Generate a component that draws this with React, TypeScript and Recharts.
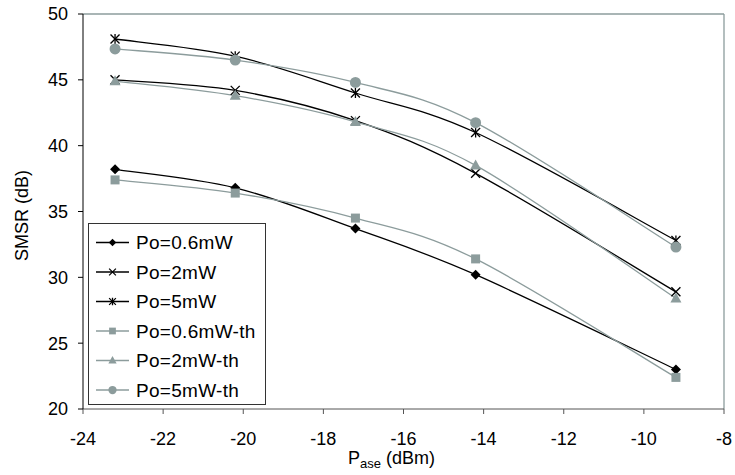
import { LineChart, Line, XAxis, YAxis, ReferenceLine, Legend, Label } from "recharts";

const pase = [-23.2, -20.2, -17.2, -14.2, -9.2];
const po06 = [38.2, 36.8, 33.7, 30.2, 23.0];
const po2 = [45.0, 44.2, 41.9, 37.9, 28.9];
const po5 = [48.1, 46.8, 44.0, 41.0, 32.8];
const po06th = [37.4, 36.4, 34.5, 31.4, 22.4];
const po2th = [44.9, 43.8, 41.8, 38.5, 28.4];
const po5th = [47.35, 46.5, 44.8, 41.75, 32.3];

const xTicks = [-24, -22, -20, -18, -16, -14, -12, -10, -8];
const yTicks = [20, 25, 30, 35, 40, 45, 50];

const BLACK = "#000000";
const GRAY = "#8c9c9c";
const FONT = "Arial, 'Liberation Sans', sans-serif";

type Shape = "diamond" | "cross" | "star" | "square" | "triangle" | "circle";

const series: { key: string; name: string; color: string; shape: Shape; values: number[] }[] = [
  { key: "po06", name: "Po=0.6mW", color: BLACK, shape: "diamond", values: po06 },
  { key: "po2", name: "Po=2mW", color: BLACK, shape: "cross", values: po2 },
  { key: "po5", name: "Po=5mW", color: BLACK, shape: "star", values: po5 },
  { key: "po06th", name: "Po=0.6mW-th", color: GRAY, shape: "square", values: po06th },
  { key: "po2th", name: "Po=2mW-th", color: GRAY, shape: "triangle", values: po2th },
  { key: "po5th", name: "Po=5mW-th", color: GRAY, shape: "circle", values: po5th },
];

const data = pase.map((x, i) => {
  const row: Record<string, number> = { x };
  series.forEach((s) => (row[s.key] = s.values[i]));
  return row;
});

// excel-style smoothed line (catmull-rom through the points)
function excelCurve(context: any) {
  let pts: [number, number][] = [];
  return {
    areaStart() {},
    areaEnd() {},
    lineStart() {
      pts = [];
    },
    point(x: number, y: number) {
      pts.push([+x, +y]);
    },
    lineEnd() {
      if (!pts.length) return;
      context.moveTo(pts[0][0], pts[0][1]);
      for (let i = 0; i < pts.length - 1; i++) {
        const p0 = pts[Math.max(0, i - 1)];
        const p1 = pts[i];
        const p2 = pts[i + 1];
        const p3 = pts[Math.min(pts.length - 1, i + 2)];
        context.bezierCurveTo(
          p1[0] + (p2[0] - p0[0]) / 6,
          p1[1] + (p2[1] - p0[1]) / 6,
          p2[0] - (p3[0] - p1[0]) / 6,
          p2[1] - (p3[1] - p1[1]) / 6,
          p2[0],
          p2[1]
        );
      }
    },
  };
}

function Marker({ cx, cy, shape, color, s = 1 }: { cx: number; cy: number; shape: Shape; color: string; s?: number }) {
  switch (shape) {
    case "diamond":
      return <polygon points={`${cx},${cy - 5 * s} ${cx + 5 * s},${cy} ${cx},${cy + 5 * s} ${cx - 5 * s},${cy}`} fill={color} />;
    case "cross":
      return (
        <g stroke={color} strokeWidth={1.3}>
          <line x1={cx - 4.5 * s} y1={cy - 4.5 * s} x2={cx + 4.5 * s} y2={cy + 4.5 * s} />
          <line x1={cx - 4.5 * s} y1={cy + 4.5 * s} x2={cx + 4.5 * s} y2={cy - 4.5 * s} />
        </g>
      );
    case "star":
      return (
        <g stroke={color} strokeWidth={1.3}>
          <line x1={cx - 4.5 * s} y1={cy - 4.5 * s} x2={cx + 4.5 * s} y2={cy + 4.5 * s} />
          <line x1={cx - 4.5 * s} y1={cy + 4.5 * s} x2={cx + 4.5 * s} y2={cy - 4.5 * s} />
          <line x1={cx} y1={cy - 5 * s} x2={cx} y2={cy + 5 * s} />
        </g>
      );
    case "square":
      return <rect x={cx - 4.5 * s} y={cy - 4.5 * s} width={9 * s} height={9 * s} fill={color} />;
    case "triangle":
      return <polygon points={`${cx},${cy - 6 * s} ${cx + 5.5 * s},${cy + 4 * s} ${cx - 5.5 * s},${cy + 4 * s}`} fill={color} />;
    default:
      return <circle cx={cx} cy={cy} r={5.5 * s} fill={color} />;
  }
}

function renderLegend() {
  return (
    <svg width={178} height={182} style={{ display: "block" }}>
      {series.map((s, i) => {
        const y = 18.5 + i * 29.5;
        return (
          <g key={s.key}>
            <line x1={7} x2={40} y1={y} y2={y} stroke={s.color} strokeWidth={1.3} />
            <Marker cx={23.5} cy={y} shape={s.shape} color={s.color} s={0.75} />
            <text x={47} y={y} dy="0.36em" fontSize={19} fontFamily={FONT} fill="#000" letterSpacing={0.3}>
              {s.name}
            </text>
          </g>
        );
      })}
    </svg>
  );
}

export default function App() {
  const tickStyle = { fontSize: 18, fontFamily: FONT, fill: "#000" };
  return (
    <div style={{ position: "absolute", left: 0, top: 0, background: "#fff" }}>
      <LineChart width={735} height={475} data={data} margin={{ top: 14, right: 11, left: 0, bottom: 0 }}>
        <XAxis
          dataKey="x"
          type="number"
          domain={[-24, -8]}
          ticks={xTicks}
          height={66}
          tickSize={5}
          tickMargin={18}
          tick={tickStyle}
          axisLine={{ stroke: "#555" }}
          tickLine={{ stroke: "#555" }}
        >
          <Label
            content={(p: any) => {
              const vb = p.viewBox;
              return (
                <text x={vb.x + vb.width / 2 - 12} y={464} textAnchor="middle" fontSize={18} fontFamily={FONT} fill="#000">
                  <tspan>P</tspan>
                  <tspan fontSize={13} dy={4}>ase</tspan>
                  <tspan dy={-4}> (dBm)</tspan>
                </text>
              );
            }}
          />
        </XAxis>
        <YAxis
          type="number"
          domain={[20, 50]}
          ticks={yTicks}
          width={83}
          tickSize={5}
          tickMargin={10}
          tick={tickStyle}
          axisLine={{ stroke: "#000" }}
          tickLine={{ stroke: "#000" }}
        >
          <Label
            content={(p: any) => {
              const vb = p.viewBox;
              const cy = vb.y + vb.height / 2 + 4;
              return (
                <text x={28} y={cy} transform={`rotate(-90, 28, ${cy})`} textAnchor="middle" fontSize={18} fontFamily={FONT} fill="#000">
                  SMSR (dB)
                </text>
              );
            }}
          />
        </YAxis>
        <ReferenceLine y={50} stroke={GRAY} strokeWidth={1.3} />
        <ReferenceLine x={-8} stroke={GRAY} strokeWidth={1.3} />
        {series.map((s) => (
          <Line
            key={s.key}
            dataKey={s.key}
            name={s.name}
            type={excelCurve as any}
            stroke={s.color}
            strokeWidth={1.3}
            isAnimationActive={false}
            dot={(props: any) => (
              <Marker key={`${s.key}-${props.index}`} cx={props.cx} cy={props.cy} shape={s.shape} color={s.color} />
            )}
            activeDot={false}
          />
        ))}
        <Legend
          layout="vertical"
          align="center"
          verticalAlign="middle"
          content={renderLegend}
          wrapperStyle={{
            left: 88,
            top: 223,
            width: 178,
            height: 182,
            border: "1px solid #333",
            background: "#fff",
            boxSizing: "border-box",
          }}
        />
      </LineChart>
    </div>
  );
}
